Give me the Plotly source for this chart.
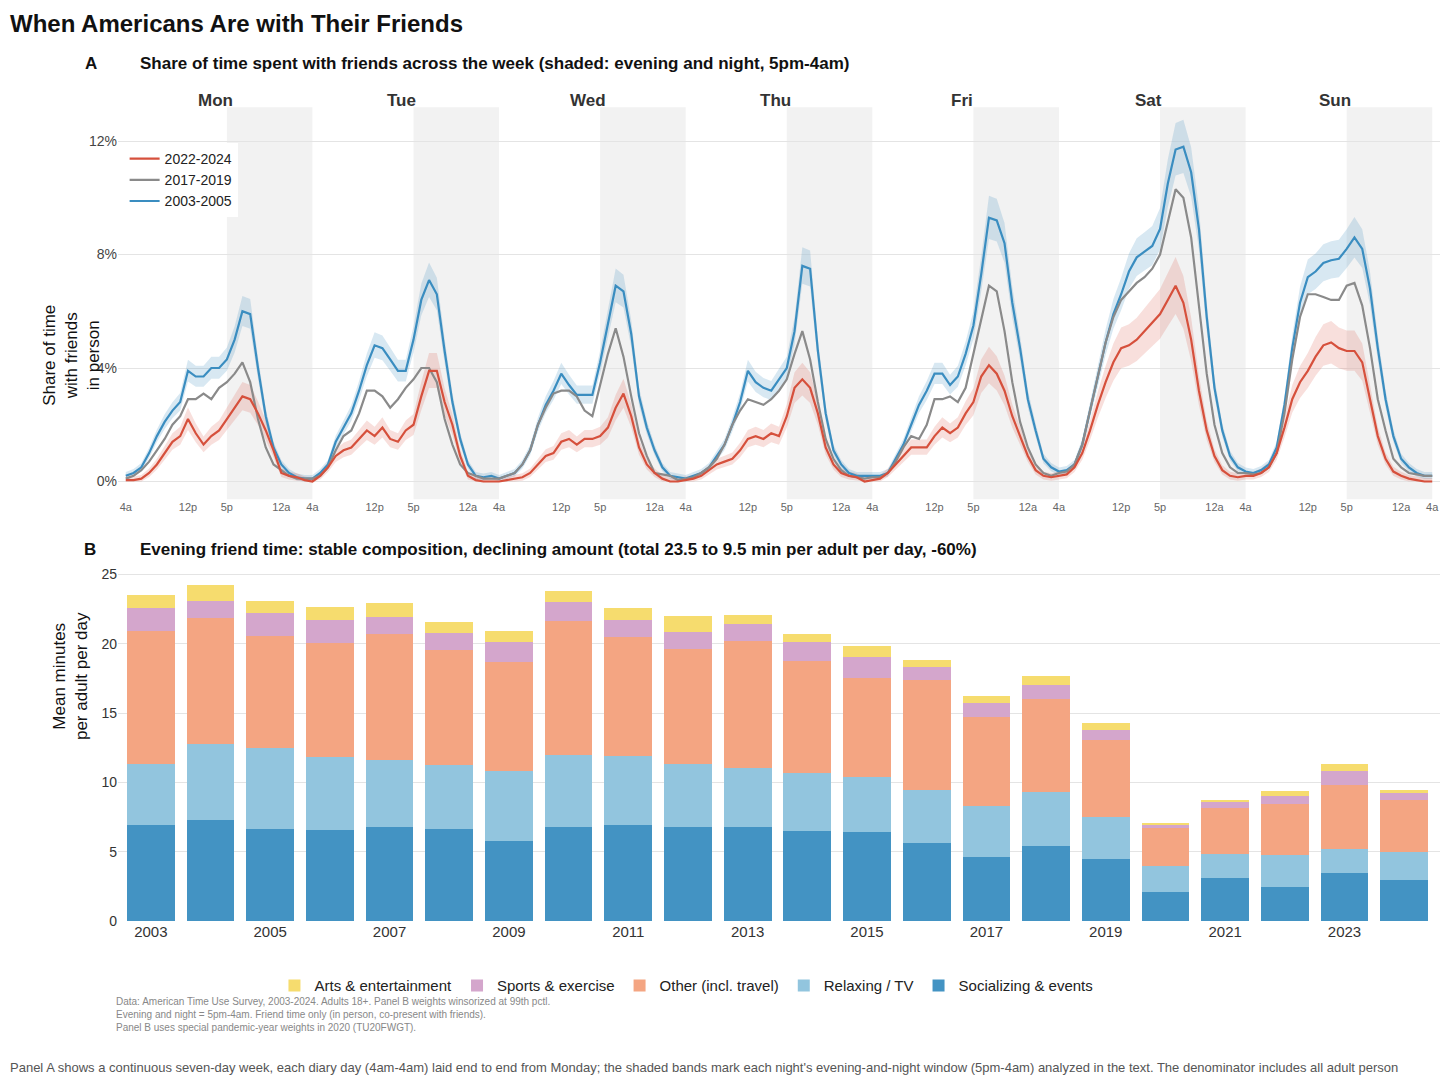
import plotly.graph_objects as go

# ---- Panel A: share of time with friends (%), hourly from 4am, per day ----
days = ["Mon", "Tue", "Wed", "Thu", "Fri", "Sat", "Sun"]
hour_ticks = [0, 8, 13, 20]
hour_labels = ["4a", "12p", "5p", "12a"]

blue_0305 = {
    "Mon": [0.2, 0.3, 0.5, 1.0, 1.6, 2.1, 2.5, 2.8, 3.9, 3.7, 3.7, 4.0, 4.0, 4.3, 5.0, 6.0, 5.9, 4.0, 2.3, 1.2, 0.6, 0.3, 0.15, 0.1],
    "Tue": [0.1, 0.3, 0.6, 1.4, 1.9, 2.4, 3.2, 4.1, 4.8, 4.7, 4.3, 3.9, 3.9, 5.0, 6.4, 7.1, 6.6, 4.6, 2.8, 1.5, 0.6, 0.2, 0.15, 0.2],
    "Wed": [0.1, 0.2, 0.3, 0.6, 1.1, 2.0, 2.7, 3.2, 3.8, 3.4, 3.05, 3.05, 3.05, 4.2, 5.6, 6.9, 6.7, 5.2, 3.0, 1.9, 1.1, 0.5, 0.2, 0.15],
    "Thu": [0.1, 0.2, 0.3, 0.5, 0.9, 1.3, 2.0, 2.8, 3.9, 3.5, 3.3, 3.2, 3.6, 4.0, 5.3, 7.6, 7.5, 4.6, 2.4, 1.1, 0.6, 0.3, 0.2, 0.2],
    "Fri": [0.2, 0.2, 0.3, 0.8, 1.3, 2.0, 2.7, 3.2, 3.8, 3.8, 3.4, 3.7, 4.5, 5.5, 7.3, 9.3, 9.2, 8.4, 6.3, 4.7, 2.9, 1.8, 0.8, 0.5],
    "Sat": [0.35, 0.4, 0.6, 1.3, 2.5, 3.7, 4.9, 5.9, 6.6, 7.4, 7.9, 8.1, 8.3, 8.9, 10.5, 11.7, 11.8, 10.9, 8.9, 5.8, 3.3, 1.8, 0.9, 0.5],
    "Sun": [0.35, 0.3, 0.4, 0.6, 1.2, 2.7, 4.7, 6.3, 7.2, 7.4, 7.7, 7.8, 7.85, 8.2, 8.6, 8.2, 6.8, 4.7, 2.9, 1.6, 0.8, 0.5, 0.3, 0.2, 0.2],
}
grey_1719 = {
    "Mon": [0.1, 0.2, 0.4, 0.7, 1.1, 1.5, 2.0, 2.3, 2.9, 2.9, 3.1, 2.9, 3.3, 3.5, 3.8, 4.2, 3.5, 2.2, 1.2, 0.6, 0.4, 0.2, 0.1, 0.1],
    "Tue": [0.1, 0.2, 0.5, 1.1, 1.6, 1.8, 2.4, 3.2, 3.2, 3.0, 2.6, 2.9, 3.3, 3.6, 4.0, 4.0, 3.5, 2.2, 1.3, 0.6, 0.3, 0.2, 0.1, 0.1],
    "Wed": [0.1, 0.2, 0.3, 0.6, 1.1, 2.0, 2.6, 3.1, 3.2, 3.2, 3.0, 2.5, 2.3, 3.4, 4.5, 5.4, 4.4, 3.0, 1.7, 0.9, 0.3, 0.25, 0.2, 0.05],
    "Thu": [0.1, 0.15, 0.3, 0.5, 0.8, 1.3, 2.0, 2.5, 2.9, 2.8, 2.7, 2.9, 3.2, 3.6, 4.5, 5.3, 4.3, 2.8, 1.5, 0.8, 0.4, 0.2, 0.15, 0.1],
    "Fri": [0.15, 0.15, 0.3, 0.7, 1.2, 1.6, 1.5, 2.0, 2.9, 2.9, 3.0, 2.8, 3.3, 4.5, 5.6, 6.9, 6.7, 5.3, 3.5, 2.1, 1.2, 0.6, 0.3, 0.2],
    "Sat": [0.3, 0.35, 0.6, 1.3, 2.5, 3.7, 4.9, 5.8, 6.4, 6.7, 7.0, 7.2, 7.5, 8.0, 9.2, 10.3, 10.0, 8.6, 6.2, 3.8, 2.0, 1.0, 0.5, 0.3],
    "Sun": [0.3, 0.25, 0.3, 0.5, 1.0, 2.4, 4.3, 5.8, 6.6, 6.6, 6.5, 6.4, 6.4, 6.9, 7.0, 6.2, 4.7, 2.9, 1.8, 0.8, 0.5, 0.3, 0.25, 0.2, 0.2],
}
red_2224 = {
    "Mon": [0.05, 0.05, 0.1, 0.3, 0.6, 1.0, 1.4, 1.6, 2.2, 1.7, 1.3, 1.6, 1.8, 2.2, 2.6, 3.0, 2.9, 2.4, 1.8, 1.1, 0.3, 0.2, 0.15, 0.05],
    "Tue": [0.0, 0.2, 0.5, 0.9, 1.1, 1.2, 1.5, 1.8, 1.6, 1.9, 1.5, 1.4, 1.8, 2.0, 3.0, 3.9, 3.9, 2.8, 2.0, 0.9, 0.2, 0.05, 0.0, 0.0],
    "Wed": [0.0, 0.05, 0.1, 0.15, 0.3, 0.6, 0.9, 1.0, 1.4, 1.5, 1.3, 1.5, 1.5, 1.6, 1.9, 2.6, 3.1, 2.3, 1.2, 0.6, 0.3, 0.1, 0.0, 0.0],
    "Thu": [0.05, 0.1, 0.2, 0.4, 0.6, 0.7, 0.8, 1.1, 1.5, 1.6, 1.5, 1.7, 1.6, 2.3, 3.3, 3.6, 3.3, 2.4, 1.2, 0.6, 0.3, 0.2, 0.15, 0.0],
    "Fri": [0.05, 0.1, 0.3, 0.6, 0.9, 1.2, 1.2, 1.2, 1.6, 1.9, 1.7, 1.9, 2.4, 2.8, 3.7, 4.1, 3.8, 3.2, 2.3, 1.6, 0.9, 0.4, 0.2, 0.15],
    "Sat": [0.2, 0.25, 0.5, 1.0, 1.8, 2.7, 3.5, 4.2, 4.7, 4.8, 5.0, 5.3, 5.6, 5.9, 6.4, 6.9, 6.3, 5.0, 3.2, 1.8, 0.9, 0.4, 0.2, 0.15],
    "Sun": [0.2, 0.2, 0.3, 0.5, 1.0, 1.9, 2.9, 3.5, 3.9, 4.4, 4.8, 4.9, 4.7, 4.6, 4.6, 4.2, 2.9, 1.6, 0.8, 0.35, 0.2, 0.1, 0.05, 0.0, 0.0],
}

# ---- Panel B: evening friend minutes per adult per day ----
years = list(range(2003, 2025))
socializing = [6.9, 7.3, 6.65, 6.6, 6.8, 6.65, 5.8, 6.8, 6.9, 6.8, 6.8, 6.5, 6.4, 5.65, 4.6, 5.45, 4.45, 2.1, 3.15, 2.5, 3.45, 2.95]
relaxing = [4.4, 5.45, 5.8, 5.2, 4.8, 4.6, 5.0, 5.15, 5.0, 4.5, 4.25, 4.15, 4.0, 3.8, 3.7, 3.85, 3.05, 1.9, 1.7, 2.25, 1.75, 2.05]
other = [9.6, 9.1, 8.1, 8.25, 9.1, 8.3, 7.9, 9.7, 8.6, 8.3, 9.15, 8.1, 7.15, 7.9, 6.4, 6.75, 5.55, 2.75, 3.3, 3.7, 4.6, 3.75]
sports = [1.7, 1.25, 1.65, 1.65, 1.2, 1.2, 1.4, 1.35, 1.2, 1.25, 1.2, 1.35, 1.5, 1.0, 1.05, 0.95, 0.75, 0.2, 0.45, 0.55, 1.0, 0.5]
arts = [0.9, 1.1, 0.85, 0.95, 1.0, 0.8, 0.8, 0.8, 0.85, 1.15, 0.65, 0.6, 0.8, 0.5, 0.5, 0.7, 0.45, 0.15, 0.15, 0.4, 0.5, 0.2]


def flatten(series):
    ys = []
    for d in days:
        ys.extend(series[d])
    return ys


xs = list(range(169))
fig = go.Figure()

# evening/night shading
for i in range(7):
    fig.add_shape(type="rect", xref="x", yref="y domain", x0=i * 24 + 13, x1=i * 24 + 24,
                  y0=0, y1=1, fillcolor="#f2f2f2", line_width=0, layer="below")

lines = [
    ("2003-2005", blue_0305, "#3a8dc0", "rgba(58,141,192,0.2)", 0.07),
    ("2017-2019", grey_1719, "#8a8a8a", None, 0),
    ("2022-2024", red_2224, "#d6503c", "rgba(214,80,60,0.18)", 0.13),
]
for name, series, col, band_col, rel in lines:
    ys = flatten(series)
    if band_col:
        upper = [v * (1 + rel) + 0.12 for v in ys]
        lower = [max(v * (1 - rel) - 0.1, 0) for v in ys]
        fig.add_trace(go.Scatter(x=xs, y=upper, mode="lines", line=dict(width=0),
                                 showlegend=False, hoverinfo="skip"))
        fig.add_trace(go.Scatter(x=xs, y=lower, mode="lines", line=dict(width=0), fill="tonexty",
                                 fillcolor=band_col, showlegend=False, hoverinfo="skip"))
for name, series, col, band_col, rel in lines:
    fig.add_trace(go.Scatter(x=xs, y=flatten(series), mode="lines", name=name,
                             line=dict(color=col, width=2.2), legend="legend"))

bar_series = [
    ("Socializing & events", socializing, "#4393c3"),
    ("Relaxing / TV", relaxing, "#92c5de"),
    ("Other (incl. travel)", other, "#f4a582"),
    ("Sports & exercise", sports, "#d4a6cc"),
    ("Arts & entertainment", arts, "#f6dc6e"),
]
for name, vals, col in bar_series:
    fig.add_trace(go.Bar(x=years, y=vals, name=name, marker=dict(color=col, line_width=0),
                         width=0.8, xaxis="x2", yaxis="y2", legend="legend2"))

tickvals = [i * 24 + h for i in range(7) for h in hour_ticks] + [168]
ticktext = hour_labels * 7 + ["4a"]

H = 1090
fig.update_layout(
    width=1456, height=H, barmode="stack", plot_bgcolor="white", paper_bgcolor="white",
    margin=dict(l=110, r=24, t=0, b=0),
    font=dict(family="Liberation Sans, Arial", color="#222"),
    xaxis=dict(domain=[0, 1], range=[-1, 169], tickvals=tickvals, ticktext=ticktext,
               showgrid=False, zeroline=False, tickfont=dict(size=11, color="#666"), anchor="y"),
    yaxis=dict(domain=[1 - 495 / H, 1 - 100 / H], range=[-0.63, 13.19], tickvals=[0, 4, 8, 12],
               ticktext=["0%", "4%", "8%", "12%"], gridcolor="#e4e4e4", zeroline=False,
               tickfont=dict(size=14, color="#444"), anchor="x"),
    xaxis2=dict(domain=[0, 1], range=[2002.45, 2024.6], tickvals=list(range(2003, 2025, 2)),
                showgrid=False, zeroline=False, tickfont=dict(size=15, color="#333"), anchor="y2"),
    yaxis2=dict(domain=[1 - 920 / H, 1 - 560 / H], range=[0, 25.75], tickvals=[0, 5, 10, 15, 20, 25],
                gridcolor="#e4e4e4", zeroline=False, tickfont=dict(size=14, color="#333"), anchor="x2"),
    legend=dict(x=0.005, y=1 - 136 / H, xanchor="left", yanchor="top", bgcolor="white",
                font=dict(size=14), tracegroupgap=0),
    legend2=dict(orientation="h", x=0.43, y=1 - 985 / H, xanchor="center", yanchor="middle",
                 font=dict(size=15), bgcolor="rgba(0,0,0,0)"),
)

ann = [
    dict(x=-110 / 1322, y=1 - 16 / H, text="<b>When Americans Are with Their Friends</b>", size=24, xa="left"),
    dict(x=-35 / 1322, y=1 - 56 / H, text="<b>A</b>", size=17, xa="left"),
    dict(x=20 / 1322, y=1 - 56 / H,
         text="<b>Share of time spent with friends across the week (shaded: evening and night, 5pm-4am)</b>", size=17, xa="left"),
    dict(x=-36 / 1322, y=1 - 545 / H, text="<b>B</b>", size=17, xa="left"),
    dict(x=20 / 1322, y=1 - 545 / H,
         text="<b>Evening friend time: stable composition, declining amount (total 23.5 to 9.5 min per adult per day, -60%)</b>", size=17, xa="left"),
]
for a in ann:
    fig.add_annotation(x=a["x"], y=a["y"], xref="paper", yref="paper", text=a["text"], showarrow=False,
                       xanchor=a["xa"], yanchor="middle", font=dict(size=a["size"], color="#111"))

for i, d in enumerate(days):
    fig.add_annotation(x=i * 24 + 11.5, y=1 - 82 / H, xref="x", yref="paper", text=f"<b>{d}</b>",
                       showarrow=False, font=dict(size=17, color="#333"))

fig.add_annotation(x=-80 / 1322, y=1 - 297 / H, xref="paper", yref="paper", textangle=-90,
                   text="Share of time<br>with friends<br>in person", showarrow=False,
                   font=dict(size=17, color="#111"))
fig.add_annotation(x=-70 / 1322, y=1 - 740 / H, xref="paper", yref="paper", textangle=-90,
                   text="Mean minutes<br>per adult per day", showarrow=False,
                   font=dict(size=17, color="#111"))

fig.add_annotation(x=-4 / 1322, y=1 - 1035 / H, xref="paper", yref="paper", xanchor="left", align="left",
                   text="Data: American Time Use Survey, 2003-2024. Adults 18+. Panel B weights winsorized at 99th pctl.<br>"
                        "Evening and night = 5pm-4am. Friend time only (in person, co-present with friends).<br>"
                        "Panel B uses special pandemic-year weights in 2020 (TU20FWGT).",
                   showarrow=False, font=dict(size=10, color="#888"))
fig.add_annotation(x=-110 / 1322, y=1 - 1077 / H, xref="paper", yref="paper", xanchor="left",
                   text="Panel A shows a continuous seven-day week, each diary day (4am-4am) laid end to end from Monday; "
                        "the shaded bands mark each night's evening-and-night window (5pm-4am) analyzed in the text. "
                        "The denominator includes all adult person",
                   showarrow=False, font=dict(size=13, color="#555"))

fig.write_html("out.html")
